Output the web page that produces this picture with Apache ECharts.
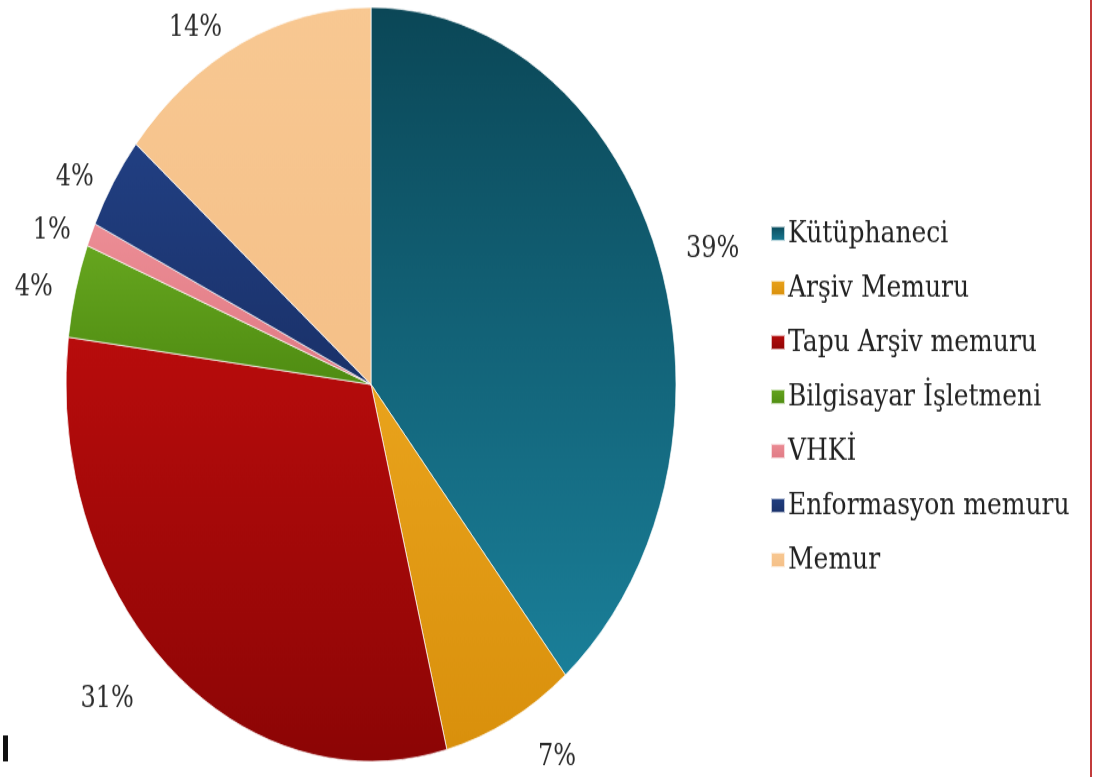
<!DOCTYPE html>
<html>
<head>
<meta charset="utf-8">
<script src="https://cdn.jsdelivr.net/npm/echarts@6/dist/echarts.min.js"></script>
<style>
  html, body { margin: 0; padding: 0; background: #fff; width: 1096px; height: 777px; }
  /* the source picture is stretched vertically, so the chart is too */
  #main { width: 1096px; height: 629px; transform: scaleY(1.236); transform-origin: 0 0; }
</style>
</head>
<body>
<div id="main"></div>
<script>
// kadro dağılımı (%)
const categories = ['Kütüphaneci', 'Arşiv Memuru', 'Tapu Arşiv memuru', 'Bilgisayar İşletmeni', 'VHKİ', 'Enformasyon memuru', 'Memur'];
const values = [39, 7, 31, 4, 1, 4, 14];

// slice colours, top -> bottom of each gradient
const palette = [
    ['#0b4757', '#1a7f99'],
    ['#e9a31c', '#d9900c'],
    ['#b80c0c', '#8c0505'],
    ['#66a61f', '#4f8c12'],
    ['#ec8d95', '#e07a84'],
    ['#213f82', '#1a3169'],
    ['#f8c892', '#f5c088']
];
// how far each % label sits from the rim
const labelGap = [16, 34, 34, 10, 8, 8, 14];

let myChart = echarts.init(document.getElementById('main'));

const data = categories.map(function (name, i) {
    return {
        name: name,
        value: values[i],
        labelLine: { length: labelGap[i] },
        itemStyle: {
            color: {
                type: 'linear', x: 0, y: 0, x2: 0, y2: 1,
                colorStops: [
                    { offset: 0, color: palette[i][0] },
                    { offset: 1, color: palette[i][1] }
                ]
            }
        }
    };
});

option = {
    backgroundColor: '#fff',
    animation: false,
    color: palette.map(function (p) { return p[1]; }),
    legend: {
        orient: 'vertical',
        left: 765,
        top: 171,
        icon: 'rect',
        itemWidth: 14,
        itemHeight: 12,
        itemGap: 18,
        textStyle: {
            fontFamily: 'DejaVu Serif',
            fontSize: 25,
            lineHeight: 26,
            color: '#222',
            padding: [0, 0, 0, -2]
        },
        data: categories
    },
    series: [{
        type: 'pie',
        center: [371, 311],
        radius: 305,
        startAngle: 90,
        clockwise: true,
        data: data,
        itemStyle: {
            borderColor: 'rgba(255,255,255,0.7)',
            borderWidth: 1
        },
        label: {
            show: true,
            position: 'outside',
            formatter: '{c}%',
            overflow: 'none',
            edgeDistance: 0,
            fontFamily: 'DejaVu Serif',
            fontSize: 24,
            color: '#2b2b2b'
        },
        labelLine: {
            show: false,
            length: 14,
            length2: 8
        },
        emphasis: { disabled: true }
    }],
    graphic: [
        { type: 'rect', shape: { x: 1090, y: 0, width: 2, height: 629 }, style: { fill: '#c23b3b' } },
        { type: 'rect', shape: { x: 3, y: 595, width: 5, height: 21 }, style: { fill: '#111' } }
    ]
};

myChart.setOption(option);
</script>
</body>
</html>
